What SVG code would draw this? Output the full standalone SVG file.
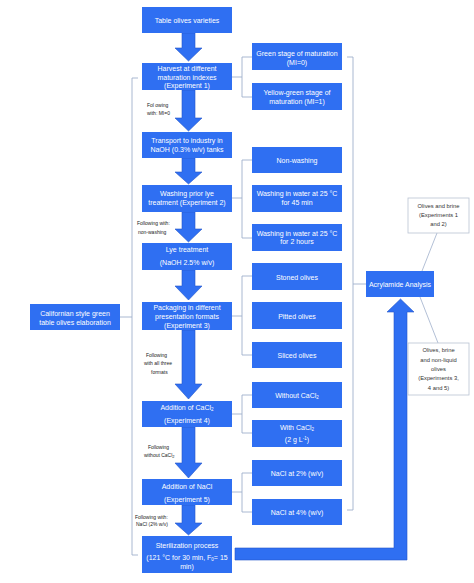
<svg xmlns="http://www.w3.org/2000/svg" width="474" height="583" viewBox="0 0 474 583">
<style>
.b{fill:#2f6ff2;}
.a{fill:#2f6ff2;stroke:#2356c9;stroke-width:0.6;}
.w{fill:#ffffff;stroke:#b9c3d3;stroke-width:0.8;}
.br{fill:none;stroke:#9fb0cc;stroke-width:0.9;}
.ln{fill:none;stroke:#9fb0cc;stroke-width:0.8;}
text{font-family:"Liberation Sans",Arial,sans-serif;text-anchor:middle;}
.t{fill:#ffffff;font-size:7px;}
.l{fill:#222222;font-size:5px;text-anchor:start;}
.d{fill:#333333;font-size:5.8px;}
</style>
<rect width="474" height="583" fill="#ffffff"/>
<g id="connectors">
<path class="a" d="M182,33 H195 V48 H202 L188.5,61 L175,48 H182 Z"/>
<path class="a" d="M182,90 H195 V118 H202 L188.5,131 L175,118 H182 Z"/>
<path class="a" d="M182,158 H195 V172 H202 L188.5,184 L175,172 H182 Z"/>
<path class="a" d="M182,212 H195 V229 H202 L188.5,242 L175,229 H182 Z"/>
<path class="a" d="M182,270 H195 V286 H202 L188.5,300 L175,286 H182 Z"/>
<path class="a" d="M182,330 H195 V384 H202 L188.5,399 L175,384 H182 Z"/>
<path class="a" d="M182,427 H195 V463 H202 L188.5,478 L175,463 H182 Z"/>
<path class="a" d="M182,505 H195 V523 H202 L188.5,535 L175,523 H182 Z"/>
<path class="a" d="M235,548 H394 V312 H387 L400.5,299 L414,312 H407 V560 H235 Z"/>
<path class="br" d="M232,77 H242 M252,57 H242 V97 H252"/>
<path class="br" d="M232,198 H242 M252,160 H242 V238 H252"/>
<path class="br" d="M232,316 H242 M252,276 H242 V355 H252"/>
<path class="br" d="M232,414 H242 M252,395 H242 V433 H252"/>
<path class="br" d="M232,492 H242 M252,473 H242 V512 H252"/>
<path class="br" d="M138,78 H132 V555 H138 M120,317 H132"/>
<path class="br" d="M347,57 H353 V510 H347 M353,284 H366"/>
<path class="ln" d="M422,271 L437,233 M420,297 L438,343"/>
</g>
<g id="n1"><rect class="b" x="142" y="7" width="90" height="26"/><text class="t" x="187" y="22.5">Table olives varieties</text></g>
<g id="n2"><rect class="b" x="142" y="63" width="90" height="27"/><text class="t" x="187" y="70.5">Harvest at different</text><text class="t" x="187" y="79.5">maturation indexes</text><text class="t" x="187" y="88">(Experiment 1)</text></g>
<g id="n3"><rect class="b" x="142" y="132" width="90" height="26"/><text class="t" x="187" y="142.5">Transport to industry in</text><text class="t" x="187" y="151.5">NaOH (0.3% w/v) tanks</text></g>
<g id="n4"><rect class="b" x="142" y="185" width="90" height="27"/><text class="t" x="187" y="195.5">Washing prior lye</text><text class="t" x="187" y="204.5">treatment (Experiment 2)</text></g>
<g id="n5"><rect class="b" x="142" y="243" width="90" height="27"/><text class="t" x="187" y="251.5">Lye treatment</text><text class="t" x="187" y="264.5">(NaOH 2.5% w/v)</text></g>
<g id="n6"><rect class="b" x="142" y="302" width="90" height="28"/><text class="t" x="187" y="309.5">Packaging in different</text><text class="t" x="187" y="318.5">presentation formats</text><text class="t" x="187" y="327.5">(Experiment 3)</text></g>
<g id="n7"><rect class="b" x="142" y="401" width="90" height="26"/><text class="t" x="187" y="409.5">Addition of CaCl<tspan font-size="4.5" dy="1.5">2</tspan></text><text class="t" x="187" y="422.5">(Experiment 4)</text></g>
<g id="n8"><rect class="b" x="142" y="479" width="90" height="26"/><text class="t" x="187" y="488.5">Addition of NaCl</text><text class="t" x="187" y="501.5">(Experiment 5)</text></g>
<g id="n9"><rect class="b" x="142" y="536" width="90" height="37"/><text class="t" x="187" y="547.5">Sterilization process</text><text class="t" x="187" y="559.5">(121 °C for 30 min, F<tspan font-size="4.5" dy="1.5">0</tspan><tspan dy="-1.5">= 15</tspan></text><text class="t" x="187" y="568.5">min)</text></g>
<g id="r1"><rect class="b" x="252" y="43" width="90" height="27"/><text class="t" x="297" y="55.5">Green stage of maturation</text><text class="t" x="297" y="64.5">(MI=0)</text></g>
<g id="r2"><rect class="b" x="252" y="83" width="90" height="27"/><text class="t" x="297" y="94.5">Yellow-green stage of</text><text class="t" x="297" y="103.5">maturation (MI=1)</text></g>
<g id="r3"><rect class="b" x="252" y="147" width="90" height="26"/><text class="t" x="297" y="162.5">Non-washing</text></g>
<g id="r4"><rect class="b" x="252" y="185" width="90" height="27"/><text class="t" x="297" y="195.5">Washing in water at 25 °C</text><text class="t" x="297" y="204.5">for 45 min</text></g>
<g id="r5"><rect class="b" x="252" y="224" width="90" height="27"/><text class="t" x="297" y="235.5">Washing in water at 25 °C</text><text class="t" x="297" y="243.5">for 2 hours</text></g>
<g id="r6"><rect class="b" x="252" y="263" width="90" height="27"/><text class="t" x="297" y="279.5">Stoned olives</text></g>
<g id="r7"><rect class="b" x="252" y="302" width="90" height="27"/><text class="t" x="297" y="318.5">Pitted olives</text></g>
<g id="r8"><rect class="b" x="252" y="342" width="90" height="26"/><text class="t" x="297" y="357.5">Sliced olives</text></g>
<g id="r9"><rect class="b" x="252" y="382" width="90" height="26"/><text class="t" x="297" y="397.5">Without CaCl<tspan font-size="4.5" dy="1.5">2</tspan></text></g>
<g id="r10"><rect class="b" x="252" y="420" width="90" height="27"/><text class="t" x="297" y="429.5">With CaCl<tspan font-size="4.5" dy="1.5">2</tspan></text><text class="t" x="297" y="441.5">(2 g L<tspan font-size="4.5" dy="-2">-1</tspan><tspan dy="2">)</tspan></text></g>
<g id="r11"><rect class="b" x="252" y="460" width="90" height="26"/><text class="t" x="297" y="475.5">NaCl at 2% (w/v)</text></g>
<g id="r12"><rect class="b" x="252" y="499" width="90" height="26"/><text class="t" x="297" y="514.5">NaCl at 4% (w/v)</text></g>
<g id="cal"><rect class="b" x="30" y="304" width="90" height="26"/><text class="t" x="75" y="315.5">Californian style green</text><text class="t" x="75" y="324.5">table olives elaboration</text></g>
<g id="acr"><rect class="b" x="366" y="271" width="68" height="26"/><text class="t" x="400" y="286.5">Acrylamide Analysis</text></g>
<g id="ob1"><rect class="w" x="408" y="198" width="61" height="35"/><text class="d" x="438.5" y="208">Olives and brine</text><text class="d" x="438.5" y="217">(Experiments 1</text><text class="d" x="438.5" y="225.5">and 2)</text></g>
<g id="ob2"><rect class="w" x="408" y="343" width="61" height="52"/><text class="d" x="438.5" y="352">Olives, brine</text><text class="d" x="438.5" y="362">and non-liquid</text><text class="d" x="438.5" y="371">olives</text><text class="d" x="438.5" y="380">(Experiments 3,</text><text class="d" x="438.5" y="390">4 and 5)</text></g>
<g id="labels">
<text class="l" x="147" y="107">Fol owing</text><text class="l" x="147" y="115">with: MI=0</text>
<text class="l" x="137" y="225">Following with:</text><text class="l" x="138" y="234">non-washing</text>
<text class="l" x="146" y="357">Following</text><text class="l" x="144" y="365">with all three</text><text class="l" x="151" y="374">formats</text>
<text class="l" x="148" y="449">Following</text><text class="l" x="144" y="457">without CaCl<tspan font-size="4" dy="1">2</tspan></text>
<text class="l" x="135" y="519">Following with:</text><text class="l" x="136" y="526">NaCl (2% w/v)</text>
</g>
</svg>
